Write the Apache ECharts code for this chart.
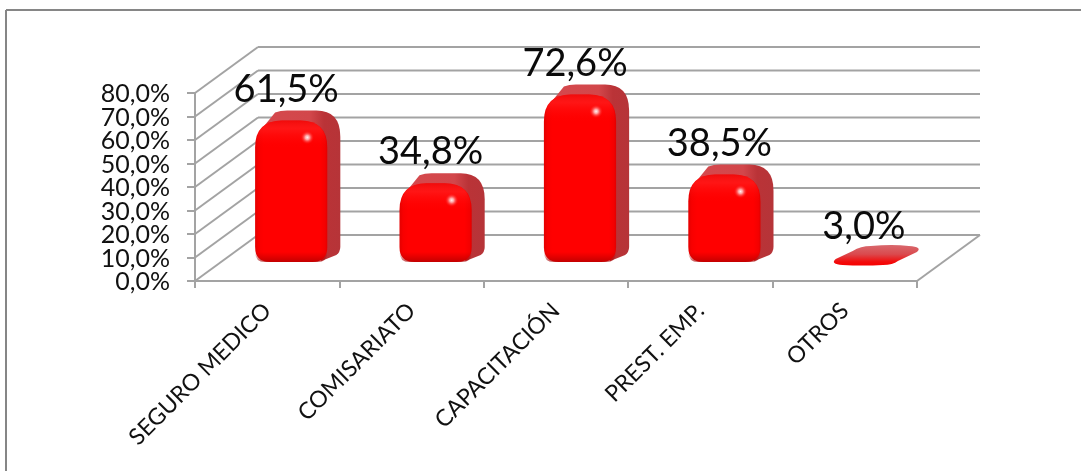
<!DOCTYPE html>
<html>
<head>
<meta charset="utf-8">
<style>html,body{margin:0;padding:0;background:#fff}#c{width:1081px;height:471px}</style>
<script src="https://cdn.jsdelivr.net/npm/echarts@6/dist/echarts.min.js"></script>
</head>
<body>
<div id="c"></div>
<script>
// Benefit shares per category, in percent
const categories = ['SEGURO MEDICO', 'COMISARIATO', 'CAPACITACIÓN', 'PREST. EMP.', 'OTROS'];
const shareValues = [61.5, 34.8, 72.6, 38.5, 3.0];
const gridValues = [0, 10, 20, 30, 40, 50, 60, 70, 80];

const FONT = 'Lato, "Open Sans", sans-serif';
const GRID_COLOR = '#a3a3a3';
const fmt = v => v.toFixed(1).replace('.', ',') + '%';

// Depth of the chart box in pixels
const WALL_DX = 63, WALL_DY = -46;
// Shift of the bars from the front plane into the box
const BAR_DX = 24, BAR_LIFT = 16, BASE_LIFT = 19;
// Distance of the value-axis labels from the axis line
const Y_LABEL_GAP = 25;

function renderWalls(params, api) {
  const cs = params.coordSys;
  const v = api.value(1);
  const y = api.coord([0, v])[1];
  const x0 = cs.x, x1 = cs.x + cs.width;
  const line = (a, b, c, d) => ({
    type: 'line',
    shape: { x1: a, y1: b, x2: c, y2: d },
    style: { stroke: GRID_COLOR, lineWidth: 2 }
  });
  const children = [
    line(x0, y, x0 + WALL_DX, y + WALL_DY),
    line(x0 + WALL_DX, y + WALL_DY, x1 + WALL_DX, y + WALL_DY),
    // The labels are taller than one grid step, so they are placed here, one per level
    {
      type: 'text',
      style: {
        text: fmt(v),
        x: x0 - Y_LABEL_GAP,
        y: y + 1,
        align: 'right',
        verticalAlign: 'middle',
        font: '25px ' + FONT,
        fill: '#111'
      }
    }
  ];
  if (v === 0) children.push(line(x1, y, x1 + WALL_DX, y + WALL_DY));
  return { type: 'group', children };
}

function hGrad(stops) {
  return new echarts.graphic.LinearGradient(0, 0, 1, 0, stops.map(s => ({ offset: s[0], color: s[1] })));
}
function vGrad(stops) {
  return new echarts.graphic.LinearGradient(0, 0, 0, 1, stops.map(s => ({ offset: s[0], color: s[1] })));
}

// Front face outline with separate top and bottom corner radii
function frontPath(x0, x1, t, b, rt, rb) {
  return `M${x0} ${t + rt}Q${x0} ${t} ${x0 + rt} ${t}L${x1 - rt} ${t}Q${x1} ${t} ${x1} ${t + rt}` +
    `L${x1} ${b - rb}Q${x1} ${b} ${x1 - rb} ${b}L${x0 + rb} ${b}Q${x0} ${b} ${x0} ${b - rb}Z`;
}

function flatBar(x0, x1, t, b, dx, dy) {
  const path = `M${x0 + 3} ${b - 6}Q${x0 - 3} ${b - 1} ${x0 + 10} ${b}` +
    `Q${x0 + 30} ${b + 1} ${x1 - 22} ${b}Q${x1 - 12} ${b} ${x1 - 7} ${b - 4}` +
    `L${x1 + dx - 2} ${t + dy + 7}Q${x1 + dx + 4} ${t + dy + 2} ${x1 + dx - 10} ${t + dy + 1}` +
    `Q${x0 + 60} ${t + dy - 1} ${x0 + 38} ${t + dy + 1}Q${x0 + 28} ${t + dy + 1} ${x0 + 20} ${t + dy + 6}Z`;
  return [{
    type: 'path',
    shape: { pathData: path },
    style: { fill: vGrad([[0, '#d8696e'], [0.45, '#da4a4e'], [0.82, '#f20c0c'], [1, '#f70000']]) }
  }];
}

function solidBar(x0, x1, t, b, dx, dy) {
  const rt = Math.min(27, (b - t) / 2), rb = 15;
  // Side and top faces share one outline behind the front face
  const shell = `M${x0 + 7} ${t + 8}L${x0 + 20} ${t + dy + 2}Q${x0 + 25} ${t + dy} ${x0 + 32} ${t + dy}` +
    `L${x1 + dx - 24} ${t + dy}Q${x1 + dx} ${t + dy} ${x1 + dx} ${t + dy + 26}` +
    `L${x1 + dx} ${b + dy - 5}Q${x1 + dx} ${b + dy} ${x1 + dx - 4} ${b + dy + 3}L${x1 - 6} ${b - 1}Z`;
  const shellWidth = x1 + dx - x0 - 7;
  const bend = (x1 - 8 - x0 - 7) / shellWidth;
  const hx = x1 - 20, hy = t + 17;
  return [
    {
      type: 'path',
      shape: { pathData: shell },
      style: { fill: hGrad([[0, '#d5494d'], [bend - 0.12, '#d2474b'], [bend + 0.06, '#ba3337'], [1, '#b63438']]) }
    },
    {
      type: 'path',
      shape: { pathData: frontPath(x0, x1, t, b, rt, rb) },
      style: { fill: hGrad([[0, '#e40000'], [0.05, '#f80000'], [0.12, '#ff0000'], [0.9, '#ff0000'], [0.97, '#f40000'], [1, '#e00000']]) }
    },
    // Soft sheen along the top and shaded rim along the bottom
    {
      type: 'path',
      shape: { pathData: frontPath(x0 + 1, x1 - 1, t, t + 28, Math.min(rt, 26), 0) },
      style: { fill: vGrad([[0, 'rgba(225,20,20,0.5)'], [0.3, 'rgba(255,70,70,0.3)'], [1, 'rgba(255,0,0,0)']]) }
    },
    {
      type: 'path',
      shape: { pathData: frontPath(x0, x1, b - 10, b, 0, rb - 5) },
      style: { fill: vGrad([[0, 'rgba(180,0,0,0)'], [1, 'rgba(170,0,0,0.7)']]) }
    },
    {
      type: 'ellipse',
      shape: { cx: hx, cy: hy, rx: 7, ry: 10 },
      rotation: -0.4,
      originX: hx,
      originY: hy,
      style: {
        fill: new echarts.graphic.RadialGradient(0.5, 0.5, 0.5, [
          { offset: 0, color: 'rgba(255,255,255,0.95)' },
          { offset: 0.3, color: 'rgba(255,205,205,0.8)' },
          { offset: 0.65, color: 'rgba(255,90,90,0.45)' },
          { offset: 1, color: 'rgba(255,0,0,0)' }
        ])
      }
    }
  ];
}

function renderBar(params, api) {
  const idx = api.value(0);
  const v = api.value(1);
  const cx = api.coord([idx, 0])[0] + BAR_DX;
  const zero = api.coord([idx, 0])[1];
  const top = api.coord([idx, v])[1] - BAR_LIFT;
  const w = api.size([1, 0])[0] * 0.5;
  const x0 = cx - w / 2, x1 = cx + w / 2;
  const flat = zero - BASE_LIFT - top < 12;
  const faces = flat
    ? flatBar(x0, x1, top, zero - BAR_LIFT, 14, -13)
    : solidBar(x0, x1, top, zero - BASE_LIFT, 13, -10);
  faces.push({
    type: 'text',
    z2: 10,
    style: {
      text: fmt(v),
      x: cx - 5,
      y: top - 31,
      align: 'center',
      verticalAlign: 'middle',
      font: '38px ' + FONT,
      fill: '#0a0a0a'
    }
  });
  return { type: 'group', children: faces };
}

const chart = echarts.init(document.getElementById('c'), null, { renderer: 'canvas' });
chart.setOption({
  animation: false,
  backgroundColor: '#fff',
  grid: { left: 195, top: 93, width: 722, height: 188, containLabel: false },
  xAxis: {
    type: 'category',
    data: categories,
    axisLine: { lineStyle: { color: GRID_COLOR, width: 2 } },
    axisTick: { show: true, length: 7, lineStyle: { color: GRID_COLOR, width: 2 } },
    axisLabel: {
      rotate: 45,
      margin: 26,
      interval: 0,
      fontFamily: FONT,
      fontSize: 23,
      color: '#111'
    }
  },
  yAxis: {
    type: 'value',
    min: 0,
    max: 80,
    interval: 10,
    splitLine: { show: false },
    axisLine: { show: true, lineStyle: { color: GRID_COLOR, width: 2 } },
    axisTick: { show: true, length: 8, lineStyle: { color: GRID_COLOR, width: 2 } },
    axisLabel: { show: false }
  },
  series: [
    {
      type: 'custom',
      coordinateSystem: 'cartesian2d',
      renderItem: renderWalls,
      data: gridValues.map(v => [0, v]),
      z: 1,
      silent: true
    },
    {
      type: 'custom',
      coordinateSystem: 'cartesian2d',
      renderItem: renderBar,
      data: shareValues.map((v, i) => [i, v]),
      z: 3,
      silent: true
    }
  ],
  // Outer chart frame: only the top and left edges show
  graphic: [
    { type: 'line', shape: { x1: 6, y1: 10, x2: 1081, y2: 10 }, style: { stroke: '#868686', lineWidth: 2 } },
    { type: 'line', shape: { x1: 6, y1: 10, x2: 6, y2: 471 }, style: { stroke: '#868686', lineWidth: 2 } }
  ]
});
</script>
</body>
</html>
